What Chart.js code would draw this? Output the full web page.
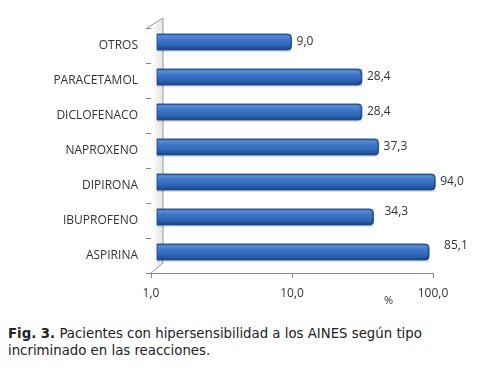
<!DOCTYPE html>
<html>
<head>
<meta charset="utf-8">
<script src="https://cdn.jsdelivr.net/npm/chart.js@4/dist/chart.umd.min.js"></script>
<style>
body{margin:0;background:#fff;width:481px;height:368px;overflow:hidden;position:relative}
#wrap{position:absolute;left:0;top:0;width:481px;height:315px}
#pct{position:absolute;left:384px;top:292px;font:11px "Open Sans",sans-serif;color:#333}
#cap{position:absolute;left:8px;top:325px;width:445px;font:13.3px "DejaVu Sans",Verdana,sans-serif;color:#222;line-height:17px}
</style>
</head>
<body>
<div id="wrap"><canvas id="c"></canvas></div>
<div id="pct">%</div>
<div id="cap"><b>Fig. 3.</b> Pacientes con hipersensibilidad a los AINES según tipo incriminado en las reacciones.</div>
<script>
// datos
const categorias = ['OTROS', 'PARACETAMOL', 'DICLOFENACO', 'NAPROXENO', 'DIPIRONA', 'IBUPROFENO', 'ASPIRINA'];
const porcentajes = [9.0, 28.4, 28.4, 37.3, 94.0, 34.3, 85.1];
const ticksX = [1, 10, 100];

const coma = v => v.toFixed(1).replace('.', ',');

// profundidad "3D"
const dx = 6, dy = -3.5;
// pequeño desplazamiento de etiquetas como en el original
const ajusteEtiq = [[0,0],[0,0],[0,0],[0,0],[0,0],[6,-5],[10,-6]];

const pared = {
    id: 'pared',
    beforeDatasetsDraw(chart) {
        const ctx = chart.ctx, a = chart.chartArea;
        const l = a.left, t = a.top, b = a.bottom, d = 12;
        ctx.save();
        const g = ctx.createLinearGradient(l, 0, l + d, 0);
        g.addColorStop(0, '#ffffff');
        g.addColorStop(1, '#e4e4e4');
        ctx.fillStyle = g;
        ctx.beginPath();
        ctx.moveTo(l, t); ctx.lineTo(l + d, t - 10); ctx.lineTo(l + d, b - 10); ctx.lineTo(l, b);
        ctx.closePath();
        ctx.fill();
        ctx.strokeStyle = '#999';
        ctx.lineWidth = 1;
        ctx.beginPath();
        ctx.moveTo(l - 4, t); ctx.lineTo(l + d, t - 10); ctx.lineTo(l + d, b - 10); ctx.lineTo(l, b);
        ctx.stroke();
        ctx.restore();
    },
    afterDatasetsDraw(chart) {
        const ctx = chart.ctx;
        const meta = chart.getDatasetMeta(0);
        ctx.save();
        meta.data.forEach((el, i) => {
            const h = el.height;
            const x0 = el.base + dx, x1 = el.x + dx;
            const y0 = el.y - h / 2 + dy, y1 = el.y + h / 2 + dy;
            const r = 3.5;
            // sombra
            ctx.fillStyle = 'rgba(0,0,0,0.12)';
            ctx.fillRect(x0, y1, x1 - x0, 2);
            const g = ctx.createLinearGradient(0, y0, 0, y1);
            g.addColorStop(0, '#1f4f90');
            g.addColorStop(0.12, '#5a8ed6');
            g.addColorStop(0.35, '#3f77c8');
            g.addColorStop(0.7, '#2e65b5');
            g.addColorStop(1, '#1b4584');
            ctx.fillStyle = g;
            ctx.beginPath();
            ctx.moveTo(x0, y0);
            ctx.lineTo(x1 - r, y0);
            ctx.quadraticCurveTo(x1, y0, x1, y0 + r);
            ctx.lineTo(x1, y1 - r);
            ctx.quadraticCurveTo(x1, y1, x1 - r, y1);
            ctx.lineTo(x0, y1);
            ctx.closePath();
            ctx.fill();
            ctx.strokeStyle = '#1d4886';
            ctx.lineWidth = 0.8;
            ctx.stroke();
            // tapa derecha
            ctx.strokeStyle = 'rgba(20,50,100,0.6)';
            ctx.beginPath();
            ctx.ellipse(x1 - r, (y0 + y1) / 2, r - 0.5, h / 2 - 1, 0, -Math.PI / 2, Math.PI / 2);
            ctx.stroke();
            // etiqueta
            ctx.fillStyle = '#333';
            ctx.font = '12px "Open Sans", sans-serif';
            ctx.textBaseline = 'middle';
            ctx.textAlign = 'left';
            const aj = ajusteEtiq[i];
            ctx.fillText(coma(porcentajes[i]), x1 + 5 + aj[0], el.y + dy + aj[1]);
        });
        ctx.restore();
    }
};

new Chart(document.getElementById('c'), {
    type: 'bar',
    data: {
        labels: categorias,
        datasets: [{
            data: porcentajes,
            backgroundColor: 'rgba(0,0,0,0)',
            borderWidth: 0,
            barPercentage: 0.46,
            categoryPercentage: 1
        }]
    },
    options: {
        indexAxis: 'y',
        responsive: true,
        maintainAspectRatio: false,
        animation: false,
        layout: { padding: { top: 28, right: 48, left: 0, bottom: 0 } },
        plugins: { legend: { display: false }, tooltip: { enabled: false } },
        scales: {
            x: {
                type: 'logarithmic',
                min: 1,
                max: 100,
                afterBuildTicks: s => { s.ticks = ticksX.map(v => ({ value: v })); },
                afterFit: s => { s.height = 42; },
                border: { color: '#888' },
                grid: { drawOnChartArea: false, color: '#888', tickLength: 5 },
                ticks: {
                    padding: 8,
                    color: '#333',
                    font: { family: 'Open Sans', size: 12 },
                    callback: v => coma(v)
                }
            },
            y: {
                afterFit: s => { s.width = 151; },
                border: { color: '#888' },
                grid: { drawOnChartArea: false, color: '#888', tickLength: 5, offset: true },
                ticks: {
                    padding: 8,
                    color: '#333',
                    font: { family: 'Open Sans', size: 12 }
                }
            }
        }
    },
    plugins: [pared]
});
</script>
</body>
</html>
